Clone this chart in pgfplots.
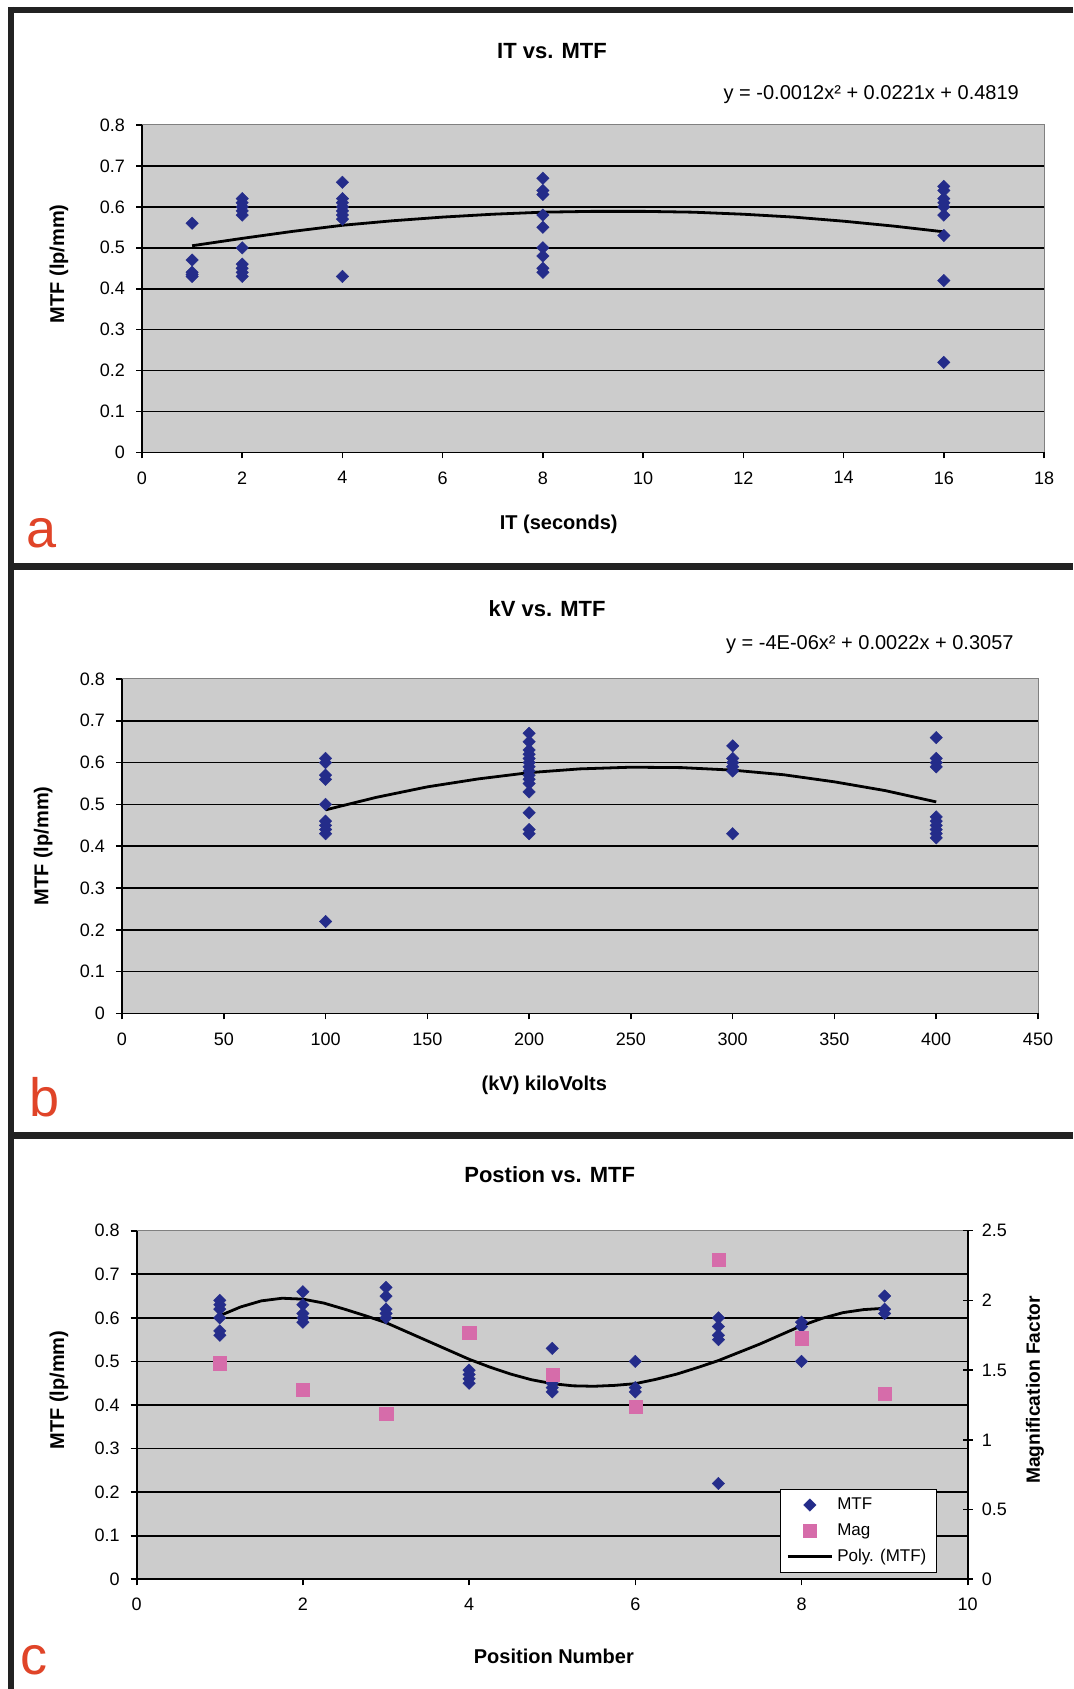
\documentclass[border=0pt]{standalone}
\usepackage{pgfplots}
\pgfplotsset{compat=1.18}
\usepackage{fontspec}
\setmainfont{Liberation Sans}

\definecolor{plotbg}{RGB}{204,204,204}
\definecolor{framegray}{RGB}{128,128,128}
\definecolor{mtfblue}{RGB}{36,44,138}
\definecolor{magpink}{RGB}{214,108,170}
\definecolor{lettered}{RGB}{224,68,40}
\definecolor{rule}{RGB}{34,34,34}

\pgfplotsset{
  panel/.style={
    scale only axis, anchor=south west, clip=false,
    axis x line*=bottom, axis y line*=left,
    axis line style={-, black, line width=0.8pt},
    axis background/.style={fill=plotbg, draw=framegray, line width=0.5pt},
    tick align=outside, major tick length=3pt,
    every tick/.style={black, line width=0.8pt},
    tick label style={font=\fontsize{9}{10}\selectfont},
    /pgf/number format/assume math mode=true,
    ymin=0, ymax=0.8, ytick={0,0.1,0.2,0.3,0.4,0.5,0.6,0.7,0.8},
    yticklabel style={/pgf/number format/fixed, /pgf/number format/precision=1, xshift=-2pt},
    xticklabel style={yshift=-3pt},
    extra y ticks={0.1,0.2,0.3,0.4,0.5,0.6,0.7},
    extra y tick labels={},
    extra y tick style={grid=major, major tick length=0pt},
    major grid style={black, line width=0.8pt},
    title style={font=\fontsize{11}{13}\selectfont\bfseries, anchor=center, yshift=-6pt},
    label style={font=\fontsize{10}{12}\selectfont\bfseries, anchor=center},
  },
  mtf/.style={only marks, mark=square*, mark size=2.2pt, color=mtfblue,
    mark options={rotate=45, solid, fill=mtfblue, draw=mtfblue, line width=0.2pt}},
  trend/.style={black, line width=1.4pt, no marks},
  dotlegend/.style={legend image code/.code={\draw[##1, mark repeat=2, mark phase=2] plot coordinates {(0pt,0pt) (11pt,0pt) (22pt,0pt)};}},
  barlegend/.style={legend image code/.code={\draw[##1] (0pt,0pt) -- (22pt,0pt);}},
}

\begin{document}
\begin{tikzpicture}[x=0.5pt, y=0.5pt]
\fill[white] (0,0) rectangle (1073,1689);
\path[use as bounding box] (0,0) rectangle (1073,1689);

% frame rules
\draw[rule, line width=3pt] (8,1679) -- (1073,1679);
\draw[rule, line width=3pt] (11,1682) -- (11,0);
\draw[rule, line width=3.5pt] (11,1122) -- (1073,1122);
\draw[rule, line width=3.5pt] (11,553) -- (1073,553);

% ---------- a: IT vs. MTF ----------
\begin{axis}[panel, at={(71pt,618.25pt)}, width=451pt, height=163.75pt,
  xmin=0, xmax=18, xtick={0,2,...,18},
  title={IT vs. MTF}, title style={at={(axis description cs:0.4545,1.226)}},
  xlabel={IT (seconds)}, xlabel style={at={(axis description cs:0.462,-0.218)}},
  ylabel={MTF (lp/mm)}, ylabel style={at={(axis description cs:-0.092,0.576)}},
]
\addplot[mtf] table {
x y
1 0.56
1 0.47
1 0.44
1 0.435
1 0.43
2 0.62
2 0.61
2 0.60
2 0.59
2 0.58
2 0.50
2 0.46
2 0.45
2 0.44
2 0.43
4 0.66
4 0.62
4 0.61
4 0.60
4 0.59
4 0.58
4 0.57
4 0.43
8 0.67
8 0.64
8 0.63
8 0.58
8 0.55
8 0.50
8 0.48
8 0.45
8 0.44
16 0.65
16 0.64
16 0.62
16 0.61
16 0.60
16 0.58
16 0.53
16 0.42
16 0.22
};
\addplot[trend] table {
x y
1 0.505
2 0.523
3 0.540
4 0.555
5 0.566
6 0.575
7 0.582
8 0.587
9 0.589
10 0.589
11 0.587
12 0.582
13 0.575
14 0.565
15 0.553
16 0.539
};
\node[anchor=east, font=\fontsize{10}{11}\selectfont] at (axis description cs:0.980,1.094)
  {y = -0.0012x² + 0.0221x + 0.4819};
\end{axis}

% ---------- b: kV vs. MTF ----------
\begin{axis}[panel, at={(61pt,337.75pt)}, width=458pt, height=167.25pt,
  xmin=0, xmax=450, xtick={0,50,...,450},
  title={kV vs. MTF}, title style={at={(axis description cs:0.464,1.209)}},
  xlabel={(kV) kiloVolts}, xlabel style={at={(axis description cs:0.461,-0.214)}},
  ylabel={MTF (lp/mm)}, ylabel style={at={(axis description cs:-0.086,0.501)}},
]
\addplot[mtf] table {
x y
100 0.61
100 0.60
100 0.57
100 0.56
100 0.50
100 0.46
100 0.45
100 0.44
100 0.43
100 0.22
200 0.67
200 0.65
200 0.63
200 0.62
200 0.61
200 0.60
200 0.59
200 0.58
200 0.57
200 0.56
200 0.55
200 0.53
200 0.48
200 0.44
200 0.43
300 0.64
300 0.61
300 0.60
300 0.59
300 0.58
300 0.43
400 0.66
400 0.61
400 0.60
400 0.59
400 0.47
400 0.46
400 0.45
400 0.44
400 0.43
400 0.42
};
\addplot[trend] table {
x y
100 0.487
125 0.517
150 0.542
175 0.561
200 0.576
225 0.585
250 0.589
275 0.588
300 0.582
325 0.571
350 0.554
375 0.533
400 0.506
};
\node[anchor=east, font=\fontsize{10}{11}\selectfont] at (axis description cs:0.981,1.104)
  {y = -4E-06x² + 0.0022x + 0.3057};
\end{axis}

% ---------- c: Postion vs. MTF ----------
\begin{axis}[panel, at={(68.35pt,54.85pt)}, width=415.5pt, height=174.3pt,
  xmin=0, xmax=10, xtick={0,2,...,10},
  title={Postion vs. MTF}, title style={at={(axis description cs:0.497,1.160)}},
  xlabel={Position Number}, xlabel style={at={(axis description cs:0.502,-0.22)}},
  ylabel={MTF (lp/mm)}, ylabel style={at={(axis description cs:-0.0935,0.543)}},
]
\addplot[mtf] table {
x y
1 0.64
1 0.63
1 0.62
1 0.60
1 0.57
1 0.56
2 0.66
2 0.63
2 0.61
2 0.60
2 0.59
3 0.67
3 0.65
3 0.62
3 0.61
3 0.60
4 0.48
4 0.47
4 0.46
4 0.45
5 0.53
5 0.45
5 0.44
5 0.43
6 0.50
6 0.44
6 0.43
7 0.60
7 0.58
7 0.56
7 0.55
7 0.22
8 0.59
8 0.58
8 0.50
9 0.65
9 0.62
9 0.61
};
\addplot[trend] table {
x y
1 0.605
1.25 0.625
1.5 0.639
1.75 0.645
2 0.643
2.25 0.634
2.5 0.620
2.75 0.605
3 0.589
3.25 0.568
3.5 0.547
3.75 0.526
4 0.505
4.25 0.487
4.5 0.471
4.75 0.458
5 0.449
5.25 0.444
5.5 0.443
5.75 0.445
6 0.449
6.25 0.459
6.5 0.471
6.75 0.486
7 0.502
7.25 0.521
7.5 0.540
7.75 0.561
8 0.582
8.25 0.599
8.5 0.612
8.75 0.619
9 0.622
};
\end{axis}

\begin{axis}[scale only axis, anchor=south west, at={(68.35pt,54.85pt)}, width=415.5pt, height=174.3pt,
  xmin=0, xmax=10, ymin=0, ymax=2.5,
  axis x line=none, axis y line*=right,
  axis line style={-, black, line width=0.8pt},
  tick align=center, major tick length=5pt,
  every tick/.style={black, line width=0.8pt},
  ytick={0,0.5,1,1.5,2,2.5},
  yticklabel style={font=\fontsize{9}{10}\selectfont, xshift=1pt},
  /pgf/number format/assume math mode=true,
  ylabel={Magnification Factor},
  ylabel style={font=\fontsize{9.6}{11}\selectfont\bfseries, anchor=center, at={(axis description cs:1.081,0.543)}},
  legend style={at={(axis description cs:0.963,0.018)}, anchor=south east,
    fill=white, draw=black, line width=0.6pt, font=\fontsize{8.5}{10}\selectfont,
    inner xsep=3pt, inner ysep=2pt, row sep=1.5pt},
  legend cell align=left,
]
\addlegendimage{mtf, dotlegend}
\addlegendentry{MTF}
\addplot[only marks, mark=square*, mark size=3.3pt, color=magpink,
  mark options={solid, fill=magpink, draw=magpink, line width=0.1pt}, dotlegend]
  table {
x y
1 1.55
2 1.36
3 1.19
4 1.77
5 1.47
6 1.24
7 2.29
8 1.73
9 1.33
};
\addlegendentry{Mag}
\addlegendimage{black, line width=1.4pt, barlegend}
\addlegendentry{Poly. (MTF)}
\end{axis}

% panel letters
\node[anchor=base west, text=lettered, font=\fontsize{27}{30}\selectfont, inner sep=0pt] at (26,1141) {a};
\node[anchor=base west, text=lettered, font=\fontsize{27}{30}\selectfont, inner sep=0pt] at (29,572) {b};
\node[anchor=base west, text=lettered, font=\fontsize{27}{30}\selectfont, inner sep=0pt] at (20,14) {c};
\end{tikzpicture}
\end{document}
